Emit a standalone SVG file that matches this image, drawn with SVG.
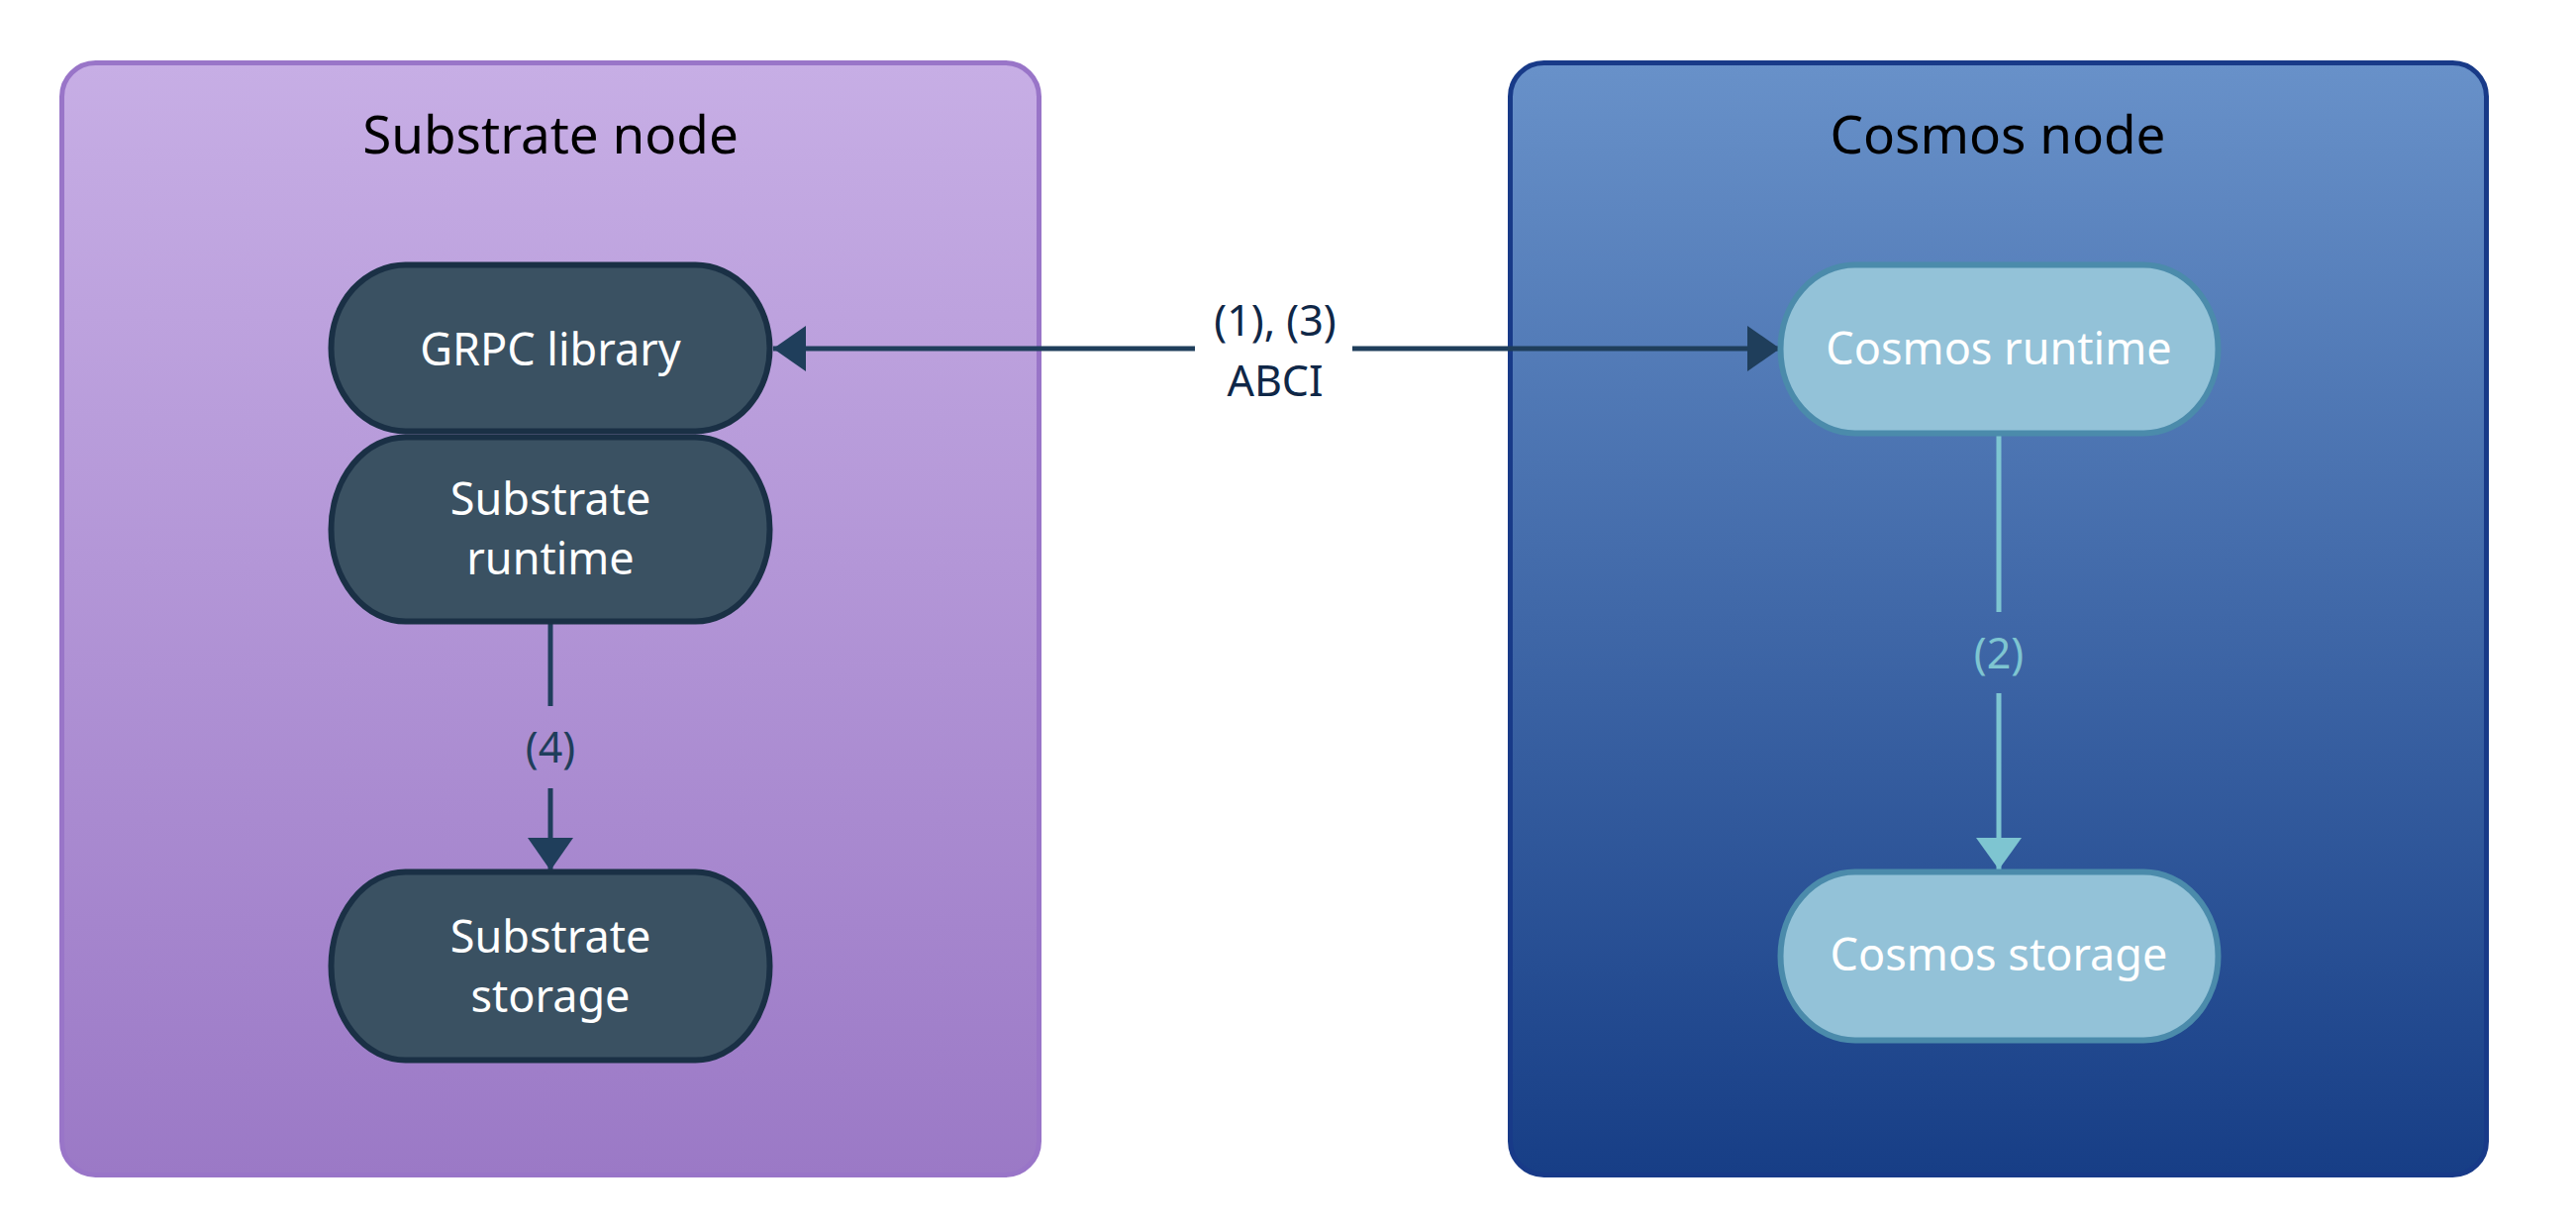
<svg xmlns="http://www.w3.org/2000/svg" width="2602" height="1236" viewBox="0 0 2602 1236">
<style>
text{font-family:"Noto Sans","Open Sans","DejaVu Sans",sans-serif;text-anchor:middle}
.title{font-size:53px;fill:#000}
.dark rect{fill:#3a5162;stroke:#1a3045;stroke-width:6}
.light rect{fill:#93c2d8;stroke:#4b8bab;stroke-width:6}
.nt{font-size:45px;fill:#fff}
.el{font-size:43px}
.ed{stroke:#1f3e5b;stroke-width:5;fill:none}
.ec{stroke:#7ec5d1;stroke-width:5;fill:none}
</style>
<defs>
<linearGradient id="gp" x1="0" y1="0" x2="0" y2="1"><stop offset="0" stop-color="#c7aee5"/><stop offset="1" stop-color="#9b79c6"/></linearGradient>
<linearGradient id="gb" x1="0" y1="0" x2="0" y2="1"><stop offset="0" stop-color="#6891c9"/><stop offset="1" stop-color="#173e86"/></linearGradient>
<marker id="ad" viewBox="0 0 33 46" refX="33" refY="23" markerWidth="33" markerHeight="46" markerUnits="userSpaceOnUse" orient="auto-start-reverse"><path d="M0,0 L33,23 L0,46 z" fill="#1f3e5b"/></marker>
<marker id="ac" viewBox="0 0 32 46" refX="32" refY="23" markerWidth="32" markerHeight="46" markerUnits="userSpaceOnUse" orient="auto"><path d="M0,0 L32,23 L0,46 z" fill="#7ec5d1"/></marker>
</defs>
<rect width="2602" height="1236" fill="#fff"/>
<g id="substrate-node">
<rect x="62.5" y="63.5" width="987" height="1123" rx="34" fill="url(#gp)" stroke="#9975c8" stroke-width="5"/>
<text class="title" x="556" y="155">Substrate node</text>
</g>
<g id="cosmos-node">
<rect x="1525.5" y="63.5" width="986" height="1123" rx="34" fill="url(#gb)" stroke="#183a88" stroke-width="5"/>
<text class="title" x="2018" y="155">Cosmos node</text>
</g>
<g id="connectors">
<path class="ed" d="M781,352 H1207" marker-start="url(#ad)"/>
<path class="ed" d="M1366,352 H1798" marker-end="url(#ad)"/>
<text class="el" x="1288" y="339" fill="#0f2747">(1), (3)</text>
<text class="el" x="1288" y="400" fill="#0f2747">ABCI</text>
<path class="ed" d="M556,630 V713"/>
<path class="ed" d="M556,796 V879" marker-end="url(#ad)"/>
<text class="el" x="556" y="770" fill="#1f3e5b">(4)</text>
<path class="ec" d="M2019,440 V618"/>
<path class="ec" d="M2019,700 V878" marker-end="url(#ac)"/>
<text class="el" x="2019" y="675" fill="#7ec5d1">(2)</text>
</g>
<g id="grpc-library" class="dark">
<rect x="334.5" y="267.5" width="443" height="168" rx="75" ry="84"/>
<text class="nt" x="556" y="369">GRPC library</text>
</g>
<g id="substrate-runtime" class="dark">
<rect x="334.5" y="441.5" width="443" height="186" rx="75" ry="93"/>
<text class="nt" x="556" y="520">Substrate</text>
<text class="nt" x="556" y="580">runtime</text>
</g>
<g id="substrate-storage" class="dark">
<rect x="334.5" y="880.5" width="443" height="190" rx="75" ry="95"/>
<text class="nt" x="556" y="962">Substrate</text>
<text class="nt" x="556" y="1022">storage</text>
</g>
<g id="cosmos-runtime" class="light">
<rect x="1798.5" y="267.5" width="442" height="170" rx="75" ry="85"/>
<text class="nt" x="2019" y="368">Cosmos runtime</text>
</g>
<g id="cosmos-storage" class="light">
<rect x="1798.5" y="880.5" width="442" height="170" rx="75" ry="85"/>
<text class="nt" x="2019" y="980">Cosmos storage</text>
</g>
</svg>
